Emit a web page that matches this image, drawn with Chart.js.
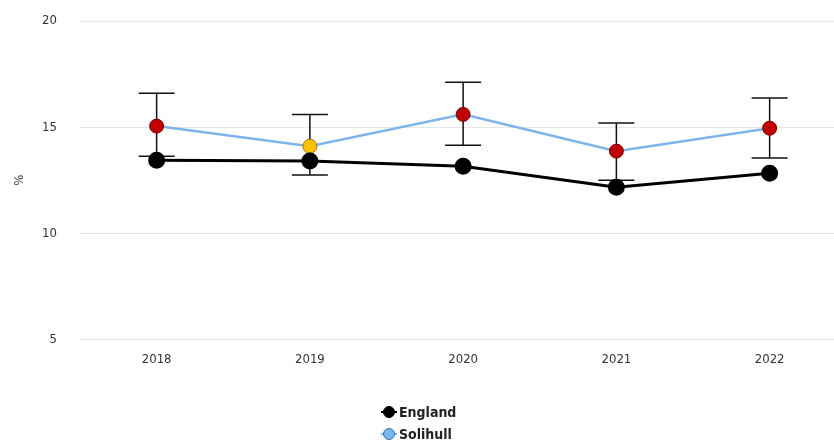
<!DOCTYPE html>
<html>
<head>
<meta charset="utf-8">
<script src="https://cdn.jsdelivr.net/npm/chart.js@4.4.0/dist/chart.umd.min.js"></script>
<style>
html,body{margin:0;padding:0;background:#fff;overflow:hidden}
#wrap{width:834px;height:446px;position:relative}
</style>
</head>
<body>
<div id="wrap"><canvas id="myChart"></canvas></div>
<script>
var years = [2018, 2019, 2020, 2021, 2022];
var englandValues = [13.44, 13.40, 13.16, 12.17, 12.83];
var solihullValues = [15.05, 14.10, 15.60, 13.87, 14.95];
var solihullLower = [13.63, 12.74, 14.15, 12.50, 13.54];
var solihullUpper = [16.60, 15.60, 17.12, 15.19, 16.37];
var solihullCompared = ["worse", "similar", "worse", "worse", "worse"];
var yTicks = [5, 10, 15, 20];

var fontFamily = "'DejaVu Sans Condensed', 'Liberation Sans Narrow', 'DejaVu Sans', sans-serif";
var fillFor = {worse: "#c00000", similar: "#ffc000", better: "#92d050"};
var edgeFor = {worse: "#7a0000", similar: "#a07800", better: "#4f7a20"};

function pts(vals) {
  return years.map(function(y, i) { return {x: y, y: vals[i]}; });
}

var errorBars = {
  id: "errorBars",
  beforeDatasetsDraw: function(chart) {
    var xs = chart.scales.x, ys = chart.scales.y, ctx = chart.ctx;
    ctx.save();
    ctx.strokeStyle = "#111";
    ctx.lineWidth = 1.5;
    years.forEach(function(yr, i) {
      var px = xs.getPixelForValue(yr);
      var top = ys.getPixelForValue(solihullUpper[i]);
      var bot = ys.getPixelForValue(solihullLower[i]);
      ctx.beginPath();
      ctx.moveTo(px, top); ctx.lineTo(px, bot);
      ctx.moveTo(px - 18, top); ctx.lineTo(px + 18, top);
      ctx.moveTo(px - 18, bot); ctx.lineTo(px + 18, bot);
      ctx.stroke();
    });
    ctx.restore();
  }
};

// legend stacked one item per row, centred under the chart
var stackedLegend = {
  id: "stackedLegend",
  afterDraw: function(chart) {
    var ctx = chart.ctx;
    var x = chart.width / 2 - 28, y0 = 412;
    var icons = [
      {line: "#000", fill: "#000", edge: "#000"},
      {line: "#7cb5ec", fill: "#7cb5ec", edge: "#3d6fa8"}
    ];
    chart.data.datasets.forEach(function(ds, i) {
      var y = y0 + i * 22;
      var ic = icons[i];
      ctx.save();
      ctx.strokeStyle = ic.line; ctx.lineWidth = 2;
      ctx.beginPath(); ctx.moveTo(x - 8, y); ctx.lineTo(x + 8, y); ctx.stroke();
      ctx.beginPath(); ctx.arc(x, y, 5.5, 0, 2 * Math.PI);
      ctx.fillStyle = ic.fill; ctx.fill();
      ctx.strokeStyle = ic.edge; ctx.lineWidth = 1; ctx.stroke();
      ctx.fillStyle = "#222";
      ctx.font = "bold 14px " + fontFamily;
      ctx.textBaseline = "middle";
      ctx.fillText(ds.label, x + 10, y + 1);
      ctx.restore();
    });
  }
};

new Chart("myChart", {
  type: "line",
  data: {
    datasets: [{
      label: "England",
      data: pts(englandValues),
      borderColor: "#000",
      borderWidth: 3,
      backgroundColor: "#000",
      pointBackgroundColor: "#000",
      pointBorderColor: "#000",
      pointRadius: 7,
      tension: 0
    }, {
      label: "Solihull",
      data: pts(solihullValues),
      borderColor: "#7cb5ec",
      borderWidth: 2.5,
      backgroundColor: "#7cb5ec",
      pointBackgroundColor: solihullCompared.map(function(c) { return fillFor[c]; }),
      pointBorderColor: solihullCompared.map(function(c) { return edgeFor[c]; }),
      pointBorderWidth: 1,
      pointRadius: 7,
      tension: 0
    }]
  },
  options: {
    responsive: true,
    maintainAspectRatio: false,
    animation: false,
    layout: {autoPadding: false, padding: {top: 21, right: 0, bottom: 67, left: 0}},
    plugins: {
      legend: {display: false},
      tooltip: {enabled: false}
    },
    scales: {
      x: {
        type: "linear",
        min: 2017.5,
        max: 2022.42,
        afterBuildTicks: function(s) { s.ticks = years.map(function(v) { return {value: v}; }); },
        afterFit: function(s) { s.paddingLeft = 0; s.paddingRight = 0; },
        grid: {display: false, drawTicks: false},
        border: {display: false},
        ticks: {
          padding: 12,
          color: "#333",
          font: {family: fontFamily, size: 13},
          callback: function(v) { return String(v); }
        }
      },
      y: {
        min: 5,
        max: 20,
        afterBuildTicks: function(s) { s.ticks = yTicks.map(function(v) { return {value: v}; }); },
        afterFit: function(s) { s.width = 80; s.paddingTop = 0; s.paddingBottom = 0; },
        grid: {color: "#e6e6e6", drawTicks: false},
        border: {display: false},
        ticks: {
          padding: 23,
          color: "#333",
          font: {family: fontFamily, size: 13}
        },
        title: {
          display: true,
          text: "%",
          color: "#333",
          font: {family: fontFamily, size: 13},
          padding: {top: 12, bottom: 0}
        }
      }
    }
  },
  plugins: [errorBars, stackedLegend]
});
</script>
</body>
</html>
